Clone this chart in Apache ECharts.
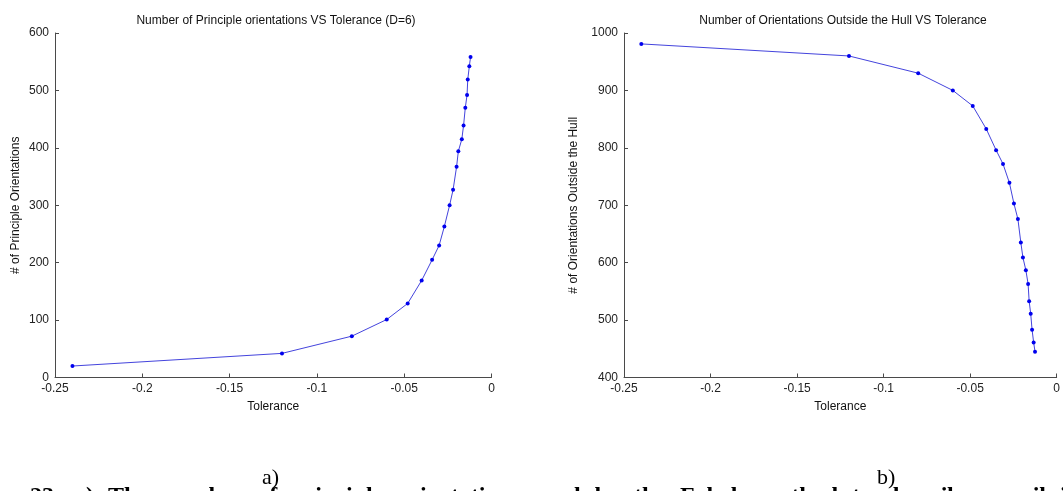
<!DOCTYPE html>
<html>
<head>
<meta charset="utf-8">
<script src="https://cdn.jsdelivr.net/npm/echarts@6/dist/echarts.min.js"></script>
<style>
  html, body { margin: 0; padding: 0; background: #fff; }
  #chart { width: 1063px; height: 491px; }
</style>
</head>
<body>
<div id="chart"></div>
<script>
// tolerance sweep
const tol_a = [-0.24, -0.12, -0.08, -0.06, -0.048, -0.040, -0.034, -0.030, -0.027, -0.024,
    -0.022, -0.020, -0.019, -0.017, -0.016, -0.015, -0.014, -0.0136, -0.0127, -0.012];
const principle_counts = [20, 42, 72, 101, 129, 169, 205, 230, 263, 300,
    327, 367, 394, 415, 439, 470, 492, 519, 542, 558];

const tol_b = [-0.24, -0.12, -0.08, -0.06, -0.0485, -0.0407, -0.035, -0.031, -0.0273, -0.0247,
    -0.0224, -0.0207, -0.0195, -0.0178, -0.0165, -0.0159, -0.015, -0.0142, -0.0133, -0.0125];
const outside_counts = [981, 960, 930, 900, 873, 833, 796, 772, 739, 703,
    676, 635, 609, 587, 563, 533, 511, 483, 461, 445];

const x_ticks = { min: -0.25, max: 0, interval: 0.05 };
const y_ticks_a = { min: 0, max: 600, interval: 100 };
const y_ticks_b = { min: 400, max: 1000, interval: 100 };

// caption below the figure (only the top of the line survives in the scan)
const caption_words = ["23.", "a)", "The", "number", "of", "principle", "orientations", "used",
    "by", "the", "Fabels", "method", "to", "describe", "a", "soil", "in", "the"];

const FONT = '"Liberation Sans", Arial, sans-serif';
const CAPTION_FONT = 'bold 24px "Liberation Serif", serif';
const AXIS_COLOR = "#4a4a4a";
const LINE_COLOR = "#4444dd";

const pairs = (xs, ys) => xs.map((x, i) => [x, ys[i]]);

// justified line: spread words so "Fabels" starts where it does in the scan
function caption_graphics(x_start, anchor_idx, anchor_x, top) {
    const ctx = document.createElement("canvas").getContext("2d");
    ctx.font = CAPTION_FONT;
    const widths = caption_words.map((w) => ctx.measureText(w).width);
    const before = widths.slice(0, anchor_idx).reduce((a, b) => a + b, 0);
    const gap = (anchor_x - x_start - before) / anchor_idx;
    let x = x_start;
    return caption_words.map((w, i) => {
        const el = { type: "text", left: x, top, style: { text: w, font: CAPTION_FONT, fill: "#000" } };
        x += widths[i] + gap;
        return el;
    });
}

function x_axis(grid) {
    return {
        type: "value", gridIndex: grid, ...x_ticks,
        name: "Tolerance", nameLocation: "middle", nameGap: 23,
        nameTextStyle: { fontFamily: FONT, fontSize: 12, color: "#111" },
        axisLine: { onZero: false, lineStyle: { color: AXIS_COLOR, width: 1 } },
        axisTick: { inside: true, length: 4, lineStyle: { color: AXIS_COLOR } },
        axisLabel: { margin: 5, fontFamily: FONT, fontSize: 12, color: "#222" },
        splitLine: { show: false },
    };
}

function y_axis(grid, ticks, name, gap) {
    return {
        type: "value", gridIndex: grid, position: "left", ...ticks,
        name, nameLocation: "middle", nameGap: gap,
        nameTextStyle: { fontFamily: FONT, fontSize: 12, color: "#111" },
        axisLine: { show: true, onZero: false, lineStyle: { color: AXIS_COLOR, width: 1 } },
        axisTick: { show: true, inside: true, length: 4, lineStyle: { color: AXIS_COLOR } },
        axisLabel: { margin: 6, fontFamily: FONT, fontSize: 12, color: "#222", formatter: (v) => String(v) },
        splitLine: { show: false },
    };
}

function line(grid, data) {
    return {
        type: "line", xAxisIndex: grid, yAxisIndex: grid, data,
        symbol: "circle", symbolSize: 4, showSymbol: true,
        lineStyle: { color: LINE_COLOR, width: 1 },
        itemStyle: { color: "#0000ee" },
        animation: false,
    };
}

const chart = echarts.init(document.getElementById("chart"), null, { renderer: "canvas" });

chart.setOption({
    backgroundColor: "#fff",
    animation: false,
    title: [
        { text: "Number of Principle orientations VS Tolerance (D=6)", left: 271, top: 10, textAlign: "center",
          textStyle: { fontFamily: FONT, fontSize: 12, fontWeight: "normal", color: "#111" } },
        { text: "Number of Orientations Outside the Hull VS Tolerance", left: 838, top: 10, textAlign: "center",
          textStyle: { fontFamily: FONT, fontSize: 12, fontWeight: "normal", color: "#111" } },
    ],
    grid: [
        { left: 55, right: 571.5, top: 33, bottom: 113.5 },
        { left: 624, right: 1.5, top: 33, bottom: 113.5 },
    ],
    xAxis: [x_axis(0), x_axis(1)],
    yAxis: [
        y_axis(0, y_ticks_a, "# of Principle Orientations", 33),
        y_axis(1, y_ticks_b, "# of Orientations Outside the Hull", 44),
    ],
    series: [line(0, pairs(tol_a, principle_counts)), line(1, pairs(tol_b, outside_counts))],
    graphic: [
        { type: "text", left: 262, top: 467,
          style: { text: "a)", font: '22px "Liberation Serif", serif', fill: "#000" } },
        { type: "text", left: 877, top: 467,
          style: { text: "b)", font: '22px "Liberation Serif", serif', fill: "#000" } },
        ...caption_graphics(30, 10, 680, 485),
    ],
});
</script>
</body>
</html>
